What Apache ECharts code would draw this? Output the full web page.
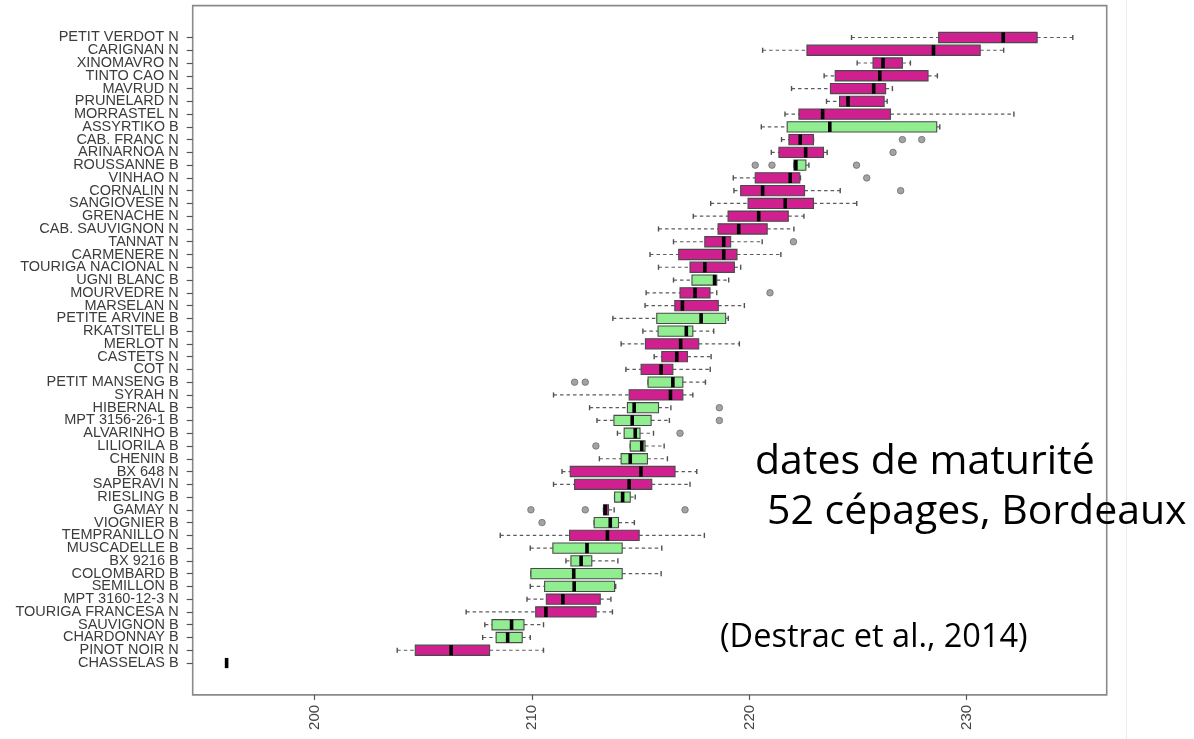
<!DOCTYPE html>
<html>
<head>
<meta charset="utf-8">
<script src="https://cdn.jsdelivr.net/npm/echarts@6/dist/echarts.min.js"></script>
<style>
html,body{margin:0;padding:0;background:#fff;}
#chart{width:1194px;height:739px;}
</style>
</head>
<body>
<div id="chart"></div>
<script>
// Categories (top to bottom)
const categories = [
  'PETIT VERDOT N','CARIGNAN N','XINOMAVRO N','TINTO CAO N','MAVRUD N','PRUNELARD N',
  'MORRASTEL N','ASSYRTIKO B','CAB. FRANC N','ARINARNOA N','ROUSSANNE B','VINHAO N',
  'CORNALIN N','SANGIOVESE N','GRENACHE N','CAB. SAUVIGNON N','TANNAT N','CARMENERE N',
  'TOURIGA NACIONAL N','UGNI BLANC B','MOURVEDRE N','MARSELAN N','PETITE ARVINE B',
  'RKATSITELI B','MERLOT N','CASTETS N','COT N','PETIT MANSENG B','SYRAH N','HIBERNAL B',
  'MPT 3156\u201126\u20111 B','ALVARINHO B','LILIORILA B','CHENIN B','BX 648 N','SAPERAVI N',
  'RIESLING B','GAMAY N','VIOGNIER B','TEMPRANILLO N','MUSCADELLE B','BX 9216 B',
  'COLOMBARD B','SEMILLON B','MPT 3160\u201112\u20113 N','TOURIGA FRANCESA N','SAUVIGNON B',
  'CHARDONNAY B','PINOT NOIR N','CHASSELAS B'
];
// Whisker low, Q1, median, Q3, whisker high (day of year)
const lows = [224.70,220.61,224.96,223.44,221.94,223.55,221.64,220.55,221.48,221.01,222.05,219.26,
  219.29,218.22,217.42,215.82,216.51,215.43,215.82,216.51,215.25,215.20,213.72,215.10,214.10,215.62,
  214.32,215.34,210.99,212.65,212.99,213.93,214.52,213.10,211.38,210.99,213.80,213.29,212.86,208.54,
  209.92,211.56,209.95,209.92,209.77,206.97,207.83,207.73,203.80,195.95];
const q1s = [228.71,222.65,225.69,223.95,223.73,224.15,222.28,221.74,221.82,221.36,222.05,220.27,
  219.60,219.94,219.02,218.56,217.95,216.75,217.27,217.36,216.81,216.57,215.74,215.80,215.22,215.97,
  215.02,215.34,214.47,214.39,213.77,214.24,214.52,214.10,211.76,211.96,213.80,213.29,212.86,211.73,
  210.96,211.79,209.95,210.58,210.66,210.17,208.16,208.35,204.63,195.95];
const medians = [231.68,228.47,226.15,226.00,225.72,224.54,223.37,223.70,222.34,222.59,222.14,221.88,
  220.61,221.65,220.43,219.51,218.82,218.82,217.95,218.40,217.50,216.92,217.78,217.10,216.84,216.66,
  215.94,216.48,216.37,214.70,214.61,214.75,215.05,214.52,215.01,214.47,214.17,213.37,213.60,213.47,
  212.53,212.26,211.92,211.94,211.42,210.64,209.06,208.88,206.28,195.95];
const q3s = [233.24,230.62,227.04,228.22,226.27,226.20,226.49,228.62,222.95,223.41,222.60,222.32,
  222.54,222.95,221.79,220.82,219.14,219.43,219.31,218.50,218.19,218.57,218.91,217.40,217.67,217.15,
  216.48,216.94,216.94,215.82,215.48,214.97,215.20,215.31,216.58,215.51,214.52,213.52,213.98,214.93,
  214.15,212.75,214.15,213.80,213.14,212.95,209.63,209.55,208.05,195.95];
const highs = [234.88,231.70,227.41,228.65,226.58,226.34,232.17,228.76,222.95,223.58,222.74,222.35,
  224.18,224.94,222.51,222.05,220.59,221.45,219.60,219.05,218.50,219.77,219.03,218.36,219.54,218.24,
  218.20,217.98,217.40,216.39,216.32,215.59,216.08,216.23,217.58,217.27,214.75,213.78,214.71,217.93,
  215.97,213.95,215.94,213.85,213.63,213.70,210.53,209.92,210.53,195.95];
// Outliers: category and value
const outlierCats = ['CAB. FRANC N','CAB. FRANC N','ARINARNOA N','ROUSSANNE B','ROUSSANNE B','ROUSSANNE B',
  'VINHAO N','CORNALIN N','TANNAT N','MOURVEDRE N','PETIT MANSENG B','PETIT MANSENG B','HIBERNAL B',
  'MPT 3156\u201126\u20111 B','ALVARINHO B','LILIORILA B','GAMAY N','GAMAY N','GAMAY N','VIOGNIER B'];
const outlierVals = [227.04,227.93,226.61,220.27,221.04,224.93,
  225.40,226.96,222.03,220.95,211.96,212.45,218.62,
  218.62,216.81,212.94,209.95,212.45,217.04,210.46];
const xTicks = [200,210,220,230];

const RED = '#D02090', GREEN = '#90EE90';
const boxData = categories.map((c, i) => [i, lows[i], q1s[i], medians[i], q3s[i], highs[i]]);
const outData = outlierCats.map((c, i) => [outlierVals[i], c]);

const X_MIN = 194.39, X_MAX = 236.44;
const GL = 192.7, GR = 1194 - 1106.7;

function renderBox(params, api) {
  const ci = api.value(0);
  const y = api.coord([api.value(1), ci])[1];
  const xLo = api.coord([api.value(1), ci])[0];
  const xA = api.coord([api.value(2), ci])[0];
  const xM = api.coord([api.value(3), ci])[0];
  const xB = api.coord([api.value(4), ci])[0];
  const xHi = api.coord([api.value(5), ci])[0];
  const band = api.size([0, 1])[1];
  const hh = band * 0.4, sh = band * 0.2;
  const fill = / B$/.test(categories[ci]) ? GREEN : RED;
  const wStyle = {stroke: '#5c5c5c', lineWidth: 1.2, lineDash: [3.5, 3]};
  const sStyle = {stroke: '#505050', lineWidth: 1.4};
  return {
    type: 'group',
    children: [
      {type: 'line', shape: {x1: xLo, y1: y, x2: xA, y2: y}, style: wStyle},
      {type: 'line', shape: {x1: xB, y1: y, x2: xHi, y2: y}, style: wStyle},
      {type: 'line', shape: {x1: xLo, y1: y - sh, x2: xLo, y2: y + sh}, style: sStyle},
      {type: 'line', shape: {x1: xHi, y1: y - sh, x2: xHi, y2: y + sh}, style: sStyle},
      {type: 'rect', shape: {x: xA, y: y - hh, width: xB - xA, height: 2 * hh},
        style: {fill: fill, stroke: '#4a4a4a', lineWidth: 1.1}},
      {type: 'line', shape: {x1: xM, y1: y - hh, x2: xM, y2: y + hh},
        style: {stroke: '#000', lineWidth: 3.6}}
    ]
  };
}

const chart = echarts.init(document.getElementById('chart'), null, {renderer: 'canvas'});
chart.setOption({
  animation: false,
  backgroundColor: '#fff',
  grid: [
    {left: GL, right: GR, top: 5.6, bottom: 739 - 694.9, show: true,
      borderColor: '#8a8a8a', borderWidth: 1.6, backgroundColor: 'transparent'},
    {left: GL, right: GR, top: 31.1, bottom: 69.6}
  ],
  xAxis: [
    {gridIndex: 0, type: 'value', min: X_MIN, max: X_MAX,
      axisLine: {show: false}, splitLine: {show: false},
      axisTick: {show: true, length: 5, customValues: xTicks, lineStyle: {color: '#555', width: 1.2}},
      axisLabel: {customValues: xTicks, rotate: 90, margin: 10, fontSize: 15,
        fontFamily: 'Liberation Sans, Arial, sans-serif', color: '#444'}},
    {gridIndex: 1, type: 'value', min: X_MIN, max: X_MAX, show: false}
  ],
  yAxis: [
    {gridIndex: 0, type: 'value', min: 0, max: 1, show: false},
    {gridIndex: 1, type: 'category', data: categories, inverse: true,
      axisLine: {show: false}, splitLine: {show: false},
      axisTick: {show: true, alignWithLabel: true, length: 6, lineStyle: {color: '#555', width: 1.2}},
      axisLabel: {interval: 0, margin: 14, fontSize: 14.5,
        fontFamily: 'Liberation Sans, Arial, sans-serif', color: '#3c3c3c'}}
  ],
  series: [
    {type: 'custom', xAxisIndex: 1, yAxisIndex: 1, renderItem: renderBox,
      encode: {x: [1, 2, 3, 4, 5], y: 0}, data: boxData, z: 2},
    {type: 'scatter', xAxisIndex: 1, yAxisIndex: 1, data: outData, symbol: 'circle', symbolSize: 6.5,
      itemStyle: {color: '#8c8c8c', borderColor: '#6e6e6e', borderWidth: 1}, z: 3}
  ],
  graphic: [
    {type: 'line', shape: {x1: 1126.5, y1: 0, x2: 1126.5, y2: 739},
      style: {stroke: '#ececec', lineWidth: 1}, z: -1},
    {type: 'text', x: 755, y: 462, style: {text: 'dates de maturité', fontSize: 41,
      fontFamily: 'Open Sans', fill: '#000', verticalAlign: 'middle'}},
    {type: 'text', x: 767, y: 512, style: {text: '52 cépages, Bordeaux', fontSize: 41,
      fontFamily: 'Open Sans', fill: '#000', verticalAlign: 'middle'}},
    {type: 'text', x: 720, y: 638, style: {text: '(Destrac et al., 2014)', fontSize: 32.5,
      fontFamily: 'Open Sans', fill: '#000', verticalAlign: 'middle'}}
  ]
});
</script>
</body>
</html>
